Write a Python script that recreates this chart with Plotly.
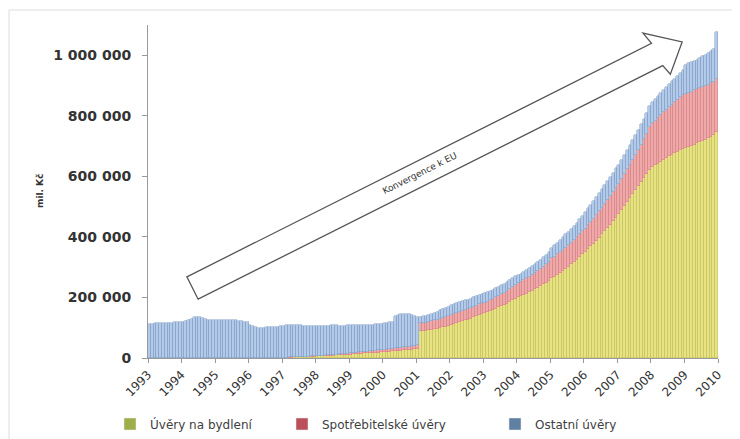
import plotly.graph_objects as go
import math

# ---- data (bn CZK, monthly Jan 1993 - Dec 2009) ----
years = list(range(1993, 2010))
tick_years = list(range(1993, 2011))

housing = (
    [0] * 48 +                                                        # 1993-1996
    [1, 1, 1.5, 1.5, 2, 2, 2.5, 3, 3, 3.5, 4, 4.5] +                  # 1997
    [5, 5.5, 6, 6.5, 7, 7.5, 8, 8.5, 9, 9.5, 10, 11] +                # 1998
    [11.5, 12, 13, 13.5, 14, 15, 15.5, 16, 17, 17.5, 18, 19] +        # 1999
    [19.5, 20, 21, 22, 22.5, 23, 24, 25, 26, 27, 28, 29] +            # 2000
    [30, 88, 89, 90, 92, 93, 95, 97, 99, 101, 103, 106] +             # 2001
    [109, 112, 115, 118, 121, 124, 127, 130, 134, 138, 142, 146] +    # 2002
    [148, 151, 155, 159, 163, 167, 171, 175, 180, 185, 190, 196] +    # 2003
    [201, 205, 209, 213, 218, 222, 227, 232, 237, 243, 249, 256] +    # 2004
    [263, 269, 275, 281, 288, 295, 302, 309, 317, 325, 333, 342] +    # 2005
    [351, 360, 369, 378, 388, 398, 408, 418, 429, 440, 451, 464] +    # 2006
    [476, 489, 502, 515, 528, 541, 554, 567, 580, 594, 608, 622] +    # 2007
    [630, 636, 642, 648, 654, 660, 666, 671, 676, 681, 686, 690] +    # 2008
    [693, 697, 701, 705, 709, 713, 717, 721, 726, 731, 737, 745]      # 2009
)

consumer = (
    [0] * 48 +
    [0.5, 0.5, 0.6, 0.7, 0.8, 0.9, 1, 1.1, 1.2, 1.3, 1.4, 1.5] +
    [1.6, 1.8, 2, 2.2, 2.4, 2.6, 2.8, 3, 3.2, 3.4, 3.6, 3.8] +
    [4, 4.3, 4.6, 4.9, 5.2, 5.5, 5.8, 6.1, 6.4, 6.7, 7, 7.5] +
    [8, 8.3, 8.6, 9, 9.3, 9.6, 10, 10.3, 10.6, 11, 11.5, 12] +
    [12, 26, 27, 27, 28, 28, 29, 29, 30, 31, 32, 32] +
    [33, 33, 33, 33, 33, 33, 34, 34, 34, 34, 35, 35] +
    [33, 34, 35, 36, 37, 38, 39, 40, 42, 43, 44, 46] +
    [46, 47, 48, 50, 51, 52, 54, 55, 57, 58, 60, 62] +
    [66, 66, 67, 68, 69, 70, 71, 72, 73, 74, 75, 76] +
    [76, 78, 80, 82, 84, 86, 88, 90, 92, 94, 96, 98] +
    [99, 102, 105, 108, 111, 114, 117, 120, 124, 128, 132, 140] +
    [145, 148, 151, 154, 157, 160, 163, 166, 169, 172, 176, 180] +
    [180, 180, 179, 179, 178, 178, 177, 177, 176, 176, 175, 175]
)

other = (
    [112, 113, 114, 115, 115, 116, 116, 117, 117, 118, 118, 119] +
    [120, 122, 125, 130, 135, 137, 136, 133, 128, 126, 125, 125] +
    [125, 126, 126, 125, 126, 127, 125, 124, 122, 121, 119, 118] +
    [110, 105, 102, 100, 99, 100, 101, 101, 102, 103, 104, 105] +
    [105.5, 106.5, 106, 107, 106, 105, 104.5, 103, 103, 102, 100.5, 100] +
    [99.4, 98.7, 99, 98.3, 97.6, 97.9, 97.2, 96.5, 94.8, 94.1, 93.4, 93.2] +
    [92.5, 91.7, 91.4, 90.6, 89.8, 89.5, 88.7, 87.9, 86.6, 86.8, 86, 85.5] +
    [86.5, 87.7, 88.4, 88, 108, 110, 110, 110, 108, 106, 103, 99] +
    [94, 23, 22, 23, 23, 25, 26, 27, 28, 29, 30, 32] +
    [33, 33, 33, 33, 33, 33, 32, 32, 32, 32, 31, 31] +
    [33, 33, 32, 31, 31, 31, 31, 31, 30, 30, 30, 28] +
    [27, 27, 28, 28, 28, 29, 29, 30, 30, 31, 31, 32] +
    [34, 37, 39, 41, 42, 43, 44, 45, 46, 48, 50, 52] +
    [55, 56, 57, 58, 59, 60, 61, 62, 63, 64, 65, 66] +
    [62, 63, 64, 64, 65, 66, 66, 67, 68, 68, 69, 70] +
    [70, 71, 72, 73, 74, 75, 76, 77, 78, 79, 80, 82] +
    [95, 96, 97, 98, 99, 100, 102, 104, 106, 108, 110, 158]
)

series_names = ["Úvěry na bydlení", "Spotřebitelské úvěry", "Ostatní úvěry"]
fill_colors = ["#e7e384", "#eeaaaa", "#b3cbe8"]
edge_colors = ["#c4c05a", "#d88080", "#7f9cc4"]
legend_colors = ["#9fae4b", "#b9505a", "#5f7fa3"]
y_ticks = [0, 200000, 400000, 600000, 800000, 1000000]
arrow_label = "Konvergence k EU"
y_title = "mil. Kč"

months = [f"{y}-{m:02d}" for y in years for m in range(1, 13)]
xpos = [i + 0.5 for i in range(len(months))]

# page has an 8px body margin: figure occupies screen (8..740, 8..439)
OFF = 8
W, H = 740 - OFF, 439 - OFF
X0, X1, Y0, Y1 = 148, 718, 25, 358          # plot area in screen pixels
ML, MR, MT, MB = X0 - OFF, 740 - X1, Y0 - OFF, 439 - Y1
PW, PH = X1 - X0, Y1 - Y0


def paper(px, py):
    return (px - X0) / PW, (Y1 - py) / PH


fig = go.Figure()
for vals, name, fc, ec in zip([housing, consumer, other], series_names, fill_colors, edge_colors):
    fig.add_trace(go.Bar(
        x=xpos, y=[v * 1000 for v in vals], width=1, name=name,
        customdata=months, marker=dict(color=fc, line=dict(color=ec, width=0.5)),
        showlegend=False, hovertemplate="%{customdata}: %{y}<extra></extra>"))

legend_ids = ["legend", "legend2", "legend3"]
legend_px = [110, 282, 495]
for name, lc, lid in zip(series_names, legend_colors, legend_ids):
    fig.add_trace(go.Bar(x=[None], y=[None], name=name, marker_color=lc,
                         legend=lid, showlegend=True))

# Arrow shape (block arrow)
cx, cy = 192.5, 288.0
ang = math.atan2(-246, 489.5)
ux, uy = math.cos(ang), math.sin(ang)
nx, ny = -uy, ux
def pt(a, p):
    return paper(cx + ux * a + nx * p, cy + uy * a + ny * p)
pts = [pt(0, -12.5), pt(520, -12.5), pt(517, -25.5), pt(548, 0),
       pt(523, 23.5), pt(520, 12.5), pt(0, 12.5)]
path = "M " + " L ".join(f"{x:.5f},{y:.5f}" for x, y in pts) + " Z"
fig.add_shape(type="path", path=path, xref="paper", yref="paper",
              line=dict(color="#555555", width=1.3), fillcolor="rgba(255,255,255,0.9)")

tx, ty = paper(cx + ux * 255, cy + uy * 255)
fig.add_annotation(x=tx, y=ty, xref="paper", yref="paper", text=arrow_label,
                   showarrow=False, textangle=math.degrees(ang),
                   font=dict(family="DejaVu Sans", size=9, color="#333333"))

# outer frame
fx0, fy0 = paper(9, 450)
fx1, fy1 = paper(733, 10)
fig.add_shape(type="rect", xref="paper", yref="paper", x0=fx0, y0=fy0, x1=fx1, y1=fy1,
              line=dict(color="#dddddd", width=1), layer="below")

ax, ay = paper(33, 191)
fig.add_annotation(x=ax, y=ay, xref="paper", yref="paper", text=f"<b>{y_title}</b>",
                   showarrow=False, textangle=-90,
                   font=dict(family="DejaVu Sans", size=9, color="#333333"))

layout_legends = {}
for lid, lx in zip(legend_ids, legend_px):
    px_, py_ = paper(lx, 424)
    layout_legends[lid] = dict(x=px_, y=py_, xanchor="left", yanchor="middle",
                               orientation="h", bgcolor="rgba(0,0,0,0)", itemwidth=30,
                               font=dict(family="DejaVu Sans", size=12, color="#404040"))

fig.update_layout(
    width=W, height=H,
    margin=dict(l=ML, r=MR, t=MT, b=MB, autoexpand=False),
    paper_bgcolor="white", plot_bgcolor="white",
    barmode="stack", bargap=0,
    separators=", ",
    **layout_legends,
    xaxis=dict(range=[0, len(months)], tickmode="array",
               tickvals=[12 * i for i in range(len(tick_years))],
               ticktext=[str(y) for y in tick_years], tickangle=-45,
               showgrid=False, zeroline=False, showline=True, linecolor="#999999",
               ticks="outside", ticklen=4, tickcolor="#999999",
               tickfont=dict(family="DejaVu Sans", size=12, color="#333333")),
    yaxis=dict(range=[0, 1100000], tickvals=y_ticks, tickformat=",d",
               showgrid=False, zeroline=False, showline=True, linecolor="#999999",
               ticks="outside", ticklen=5, tickcolor="#999999", ticklabelstandoff=8,
               tickfont=dict(family="DejaVu Sans", size=14, color="#333333", weight="bold")),
)

fig.write_html("out.html")
